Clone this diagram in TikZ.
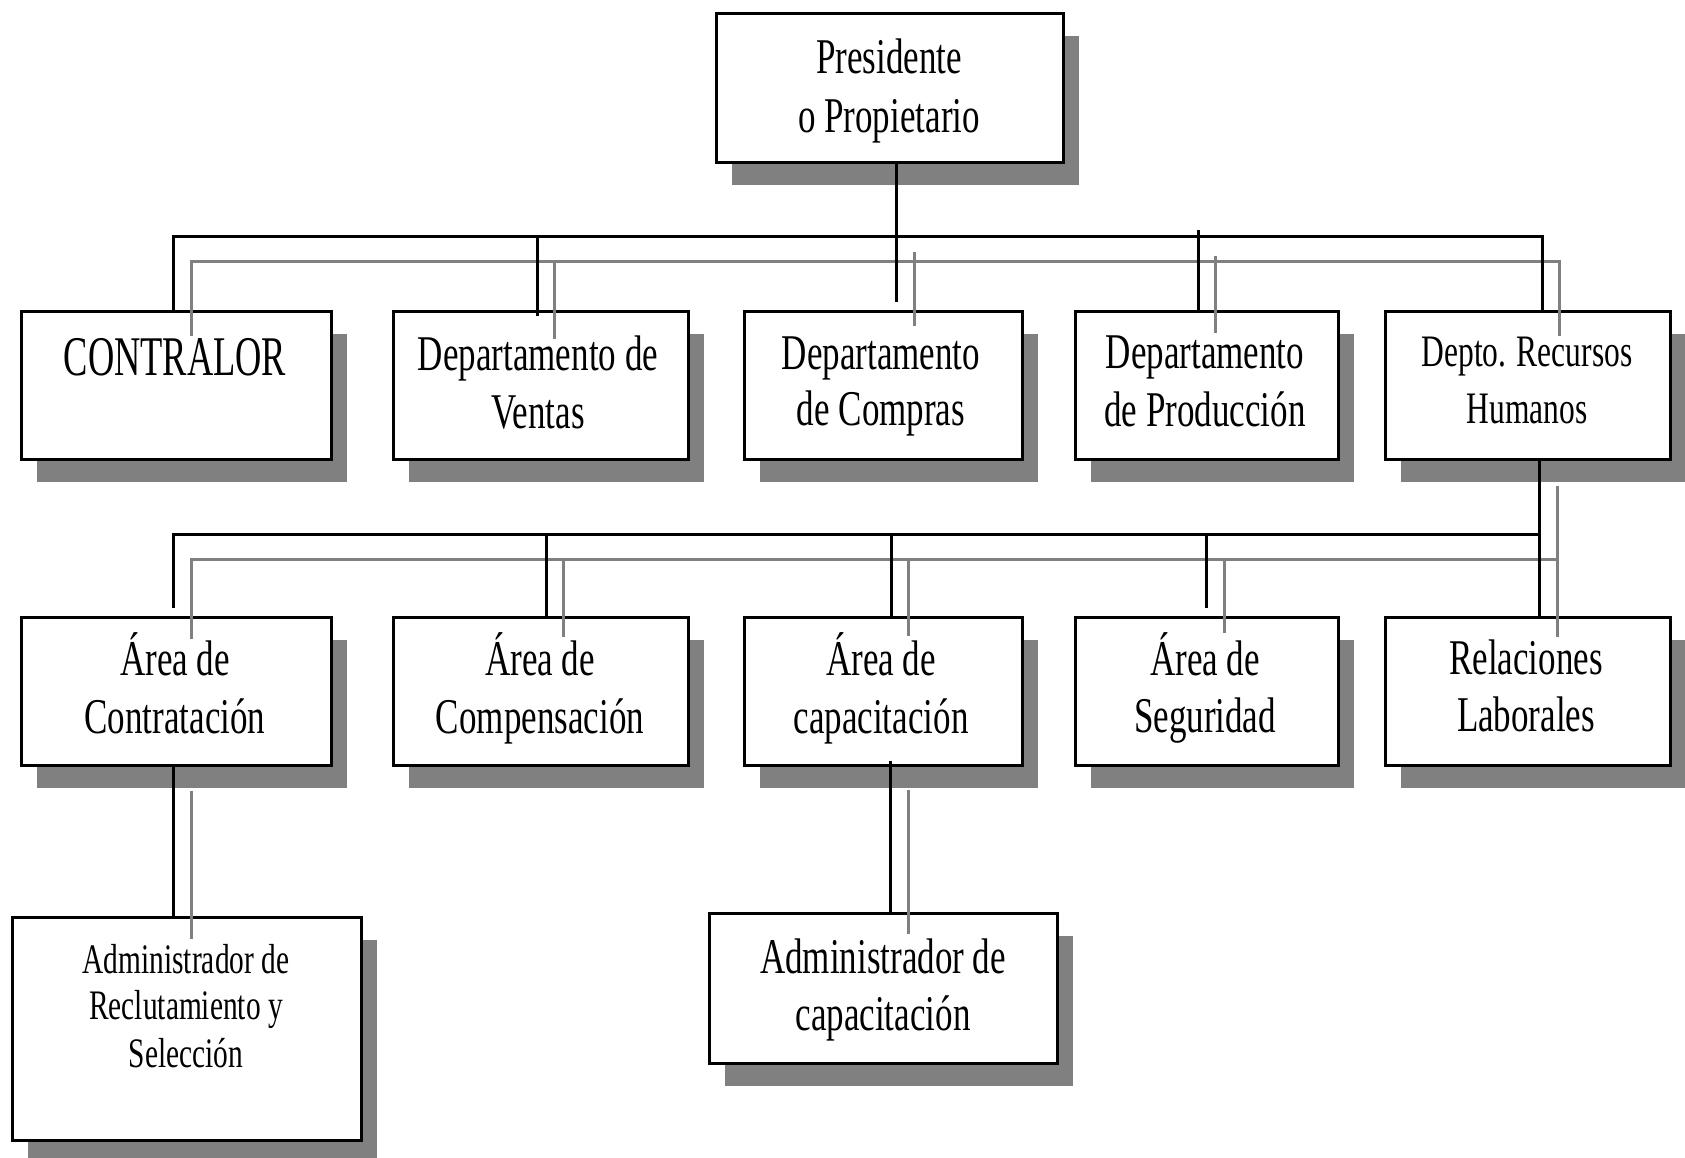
\documentclass[tikz,border=0pt]{standalone}
\usepackage{fontspec}
\setmainfont{Liberation Serif}[FakeStretch=0.7]
\newfontfamily\ctrfont{Liberation Serif}[FakeStretch=0.65]
\usetikzlibrary{shadows,calc}
\definecolor{shgray}{RGB}{128,128,128}
\newcommand\fbig{\fontsize{50}{57}\selectfont}
\newcommand\fmid{\fontsize{45}{52}\selectfont}
\newcommand\fsmall{\fontsize{42}{47}\selectfont}
\newcommand\mkbox[5]{\node[orgbox, minimum width={#4-#2}, minimum height={#5-#3}] (#1) at ({(#2+#4)/2},{(#3+#5)/2}) {};}
\tikzset{
  orgbox/.style={rectangle, draw=black, line width=3pt, fill=white, inner sep=0pt,
    general shadow={fill=shgray, shadow xshift=16pt, shadow yshift=-23pt}},
  txt/.style={anchor=base, inner sep=0pt, text=black, font=\fbig},
  blk/.style={draw=black, line width=3pt},
  gry/.style={draw=shgray, line width=3pt},
}
\begin{document}
\begin{tikzpicture}[x=1pt, y=-1pt]
\useasboundingbox[fill=white] (0,0) rectangle (1685,1157);

% boxes
\mkbox{pres}{716}{13}{1063}{162}
\mkbox{ctr}{21}{311}{331}{459}
\mkbox{ven}{393}{311}{688}{459}
\mkbox{com}{744}{311}{1022}{459}
\mkbox{pro}{1075}{311}{1338}{459}
\mkbox{rh}{1385}{311}{1670}{459}
\mkbox{con}{21}{617}{331}{765}
\mkbox{cmp}{393}{617}{688}{765}
\mkbox{cap}{744}{617}{1022}{765}
\mkbox{seg}{1075}{617}{1338}{765}
\mkbox{rel}{1385}{617}{1670}{765}
\mkbox{adr}{12}{917}{361}{1140}
\mkbox{adc}{709}{913}{1057}{1063}

% texts
\node[txt] (pres-a) at (889,73) {Presidente};
\node[txt] (pres-b) at (889,132) {o Propietario};
\node[txt, font=\ctrfont\fontsize{56}{60}\selectfont] (ctr-a) at (175,375) {CONTRALOR};
\node[txt] (ven-a) at (538,370) {Departamento de};
\node[txt] (ven-b) at (538,428) {Ventas};
\node[txt] (com-a) at (881,369) {Departamento};
\node[txt] (com-b) at (881,425) {de Compras};
\node[txt] (pro-a) at (1205,368) {Departamento};
\node[txt] (pro-b) at (1205,426) {de Producción};
\node[txt, font=\fmid] (rh-a) at (1527,366) {Depto. Recursos};
\node[txt, font=\fmid] (rh-b) at (1527,423) {Humanos};
\node[txt] (con-a) at (175,675) {Área de};
\node[txt] (con-b) at (175,733) {Contratación};
\node[txt] (cmp-a) at (540,675) {Área de};
\node[txt] (cmp-b) at (540,733) {Compensación};
\node[txt] (cap-a) at (881,675) {Área de};
\node[txt] (cap-b) at (881,733) {capacitación};
\node[txt] (seg-a) at (1205,675) {Área de};
\node[txt] (seg-b) at (1205,732) {Seguridad};
\node[txt] (rel-a) at (1526,674) {Relaciones};
\node[txt] (rel-b) at (1526,731) {Laborales};
\node[txt, font=\fsmall] (adr-a) at (186,973) {Administrador de};
\node[txt, font=\fsmall] (adr-b) at (186,1019) {Reclutamiento y};
\node[txt, font=\fsmall] (adr-c) at (186,1067) {Selección};
\node[txt] (adc-a) at (883,973) {Administrador de};
\node[txt] (adc-b) at (883,1030) {capacitación};

% bus coordinates
\coordinate (b1) at (173,236);
\coordinate (b2) at (537,236);
\coordinate (b3) at (896,236);
\coordinate (b4) at (1198,236);
\coordinate (b5) at (1542,236);
\coordinate (g1) at (191,261);
\coordinate (g2) at (554,261);
\coordinate (g3) at (914,261);
\coordinate (g4) at (1215,261);
\coordinate (g5) at (1559,261);

\coordinate (c1) at (173,534);
\coordinate (c2) at (546,534);
\coordinate (c3) at (891,534);
\coordinate (c4) at (1206,534);
\coordinate (c5) at (1539,534);
\coordinate (c6) at (890,534);
\coordinate (h1) at (191,559);
\coordinate (h2) at (563,559);
\coordinate (h3) at (908,559);
\coordinate (h4) at (1224,559);
\coordinate (h5) at (1557,559);

% gray (shadow) connectors, level 1
\draw[gry] ([yshift=-26pt]ctr.north -| g1) -- (g1) -- (g5) -- ([yshift=-26pt]rh.north -| g5);
\draw[gry] (g2) -- ([yshift=-29pt]ven.north -| g2);
\draw[gry] ([yshift=9pt]g3) -- ([yshift=-16pt]com.north -| g3);
\draw[gry] ([yshift=5pt]g4) -- ([yshift=-23pt]pro.north -| g4);

% black connectors, level 1
\draw[blk] (ctr.north -| b1) -- (b1) -- (b5) -- (rh.north -| b5);
\draw[blk] (b2) -- ([yshift=-6pt]ven.north -| b2);
\draw[blk] (pres.south -| b3) -- ([yshift=8pt]com.north -| b3);
\draw[blk] ([yshift=6pt]b4) -- (pro.north -| b4);

% gray connectors, level 2
\draw[gry] ([yshift=-23pt]con.north -| h1) -- (h1) -- (h5);
\draw[gry] ([yshift=-25pt]rh.south -| h5) -- ([yshift=-21pt]rel.north -| h5);
\draw[gry] (h2) -- ([yshift=-21pt]cmp.north -| h2);
\draw[gry] (h3) -- ([yshift=-20pt]cap.north -| h3);
\draw[gry] (h4) -- ([yshift=-17pt]seg.north -| h4);

% black connectors, level 2
\draw[blk] ([yshift=8pt]con.north -| c1) -- (c1) -- (c5);
\draw[blk] (rh.south -| c5) -- (rel.north -| c5);
\draw[blk] (c2) -- (cmp.north -| c2);
\draw[blk] (c3) -- (cap.north -| c3);
\draw[blk] (c4) -- ([yshift=8pt]seg.north -| c4);

% level 3
\draw[gry] ([yshift=-24pt]con.south -| h1) -- ([yshift=-23pt]adr.north -| h1);
\draw[blk] (con.south -| c1) -- (adr.north -| c1);
\draw[gry] ([yshift=-23pt]cap.south -| h3) -- ([yshift=-22pt]adc.north -| h3);
\draw[blk] ([yshift=6pt]cap.south -| c6) -- (adc.north -| c6);
\end{tikzpicture}
\end{document}
